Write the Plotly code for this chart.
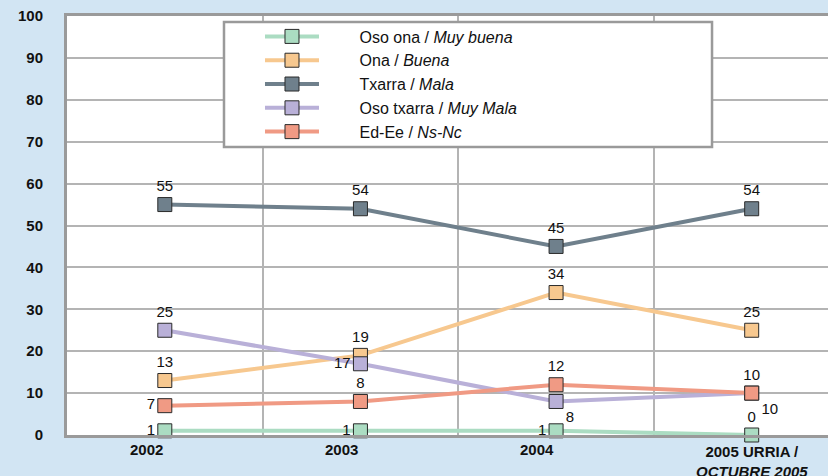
import plotly.graph_objects as go

categories = ["2002", "2003", "2004", "2005 URRIA / OCTUBRE 2005"]
x_tick_labels = ["<b>2002</b>", "<b>2003</b>", "<b>2004</b>",
                 "<b>2005 URRIA /</b><br><b><i>OCTUBRE 2005</i></b>"]

series_names = ["Oso ona / <i>Muy buena</i>", "Ona / <i>Buena</i>", "Txarra / <i>Mala</i>",
                "Oso txarra / <i>Muy Mala</i>", "Ed-Ee / <i>Ns-Nc</i>"]
oso_ona = [1, 1, 1, 0]
ona = [13, 19, 34, 25]
txarra = [55, 54, 45, 54]
oso_txarra = [25, 17, 8, 10]
ed_ee = [7, 8, 12, 10]

values = [oso_ona, ona, txarra, oso_txarra, ed_ee]
colors = ["#abdcc2", "#f7c88f", "#6f808c", "#b9b0d8", "#f09a84"]
text_positions = [
    ["middle left", "middle left", "middle left", "top center"],
    ["top center"] * 4,
    ["top center"] * 4,
    ["top center", "middle left", "bottom right", "bottom right"],
    ["middle left", "top center", "top center", "top center"],
]

FONT = "Arial, Liberation Sans, sans-serif"
xs = list(range(len(categories)))
PAD = "&nbsp;" * 8

fig = go.Figure()
for name, vals, col, tp in zip(series_names, values, colors, text_positions):
    fig.add_trace(go.Scatter(
        x=xs, y=vals, name=PAD + name, mode="lines+markers+text",
        line=dict(color=col, width=4),
        marker=dict(symbol="square", size=14, color=col, line=dict(color="#2a2a2a", width=1)),
        text=[str(v) for v in vals], textposition=tp,
        textfont=dict(family=FONT, size=15, color="#111111"),
        cliponaxis=False,
    ))

# x labels (right-aligned to the category for single-line labels, centered for the last)
for i, lab in enumerate(x_tick_labels):
    multi = "<br>" in lab
    fig.add_annotation(
        x=xs[i], xref="x", y=0, yref="paper", yanchor="top",
        xanchor="center" if multi else "right",
        yshift=-6 if multi else -4, text=lab, showarrow=False,
        font=dict(family=FONT, size=15, color="#111111"),
    )

# legend box
fig.add_shape(type="rect", xref="paper", yref="paper",
              x0=0.2063, x1=0.8476, y0=0.6874, y1=0.9857,
              fillcolor="white", line=dict(color="#9a9a9a", width=2.5), layer="above")

fig.update_layout(
    width=828, height=476,
    margin=dict(l=67, r=0, t=16, b=41),
    paper_bgcolor="#d2e5f3", plot_bgcolor="white",
    font=dict(family=FONT, color="#111111"),
    showlegend=True,
    legend=dict(x=0.2536, y=0.9916, xanchor="left", yanchor="top",
                bgcolor="rgba(0,0,0,0)", borderwidth=0,
                font=dict(family=FONT, size=16, color="#111111"),
                itemwidth=54, itemclick=False),
    xaxis=dict(range=[-0.5, 3.39], tickvals=[-0.5, 0.5, 1.5, 2.5, 3.5],
               showticklabels=False, showgrid=True, gridcolor="#b4b4b4", gridwidth=1.5,
               showline=True, linecolor="#9a9a9a", linewidth=3, mirror=True,
               zeroline=False, fixedrange=True, automargin=False),
    yaxis=dict(range=[0, 100], dtick=10, showgrid=True, gridcolor="#b4b4b4", gridwidth=1.5,
               showline=True, linecolor="#9a9a9a", linewidth=3,
               zeroline=False, ticks="", ticklabelstandoff=18,
               tickfont=dict(family=FONT, size=15, color="#111111", weight="bold"),
               fixedrange=True, automargin=False),
)

fig.write_html("out.html", config={"displayModeBar": False},
               post_script="document.body.style.margin='0px';document.body.style.background='#d2e5f3';")
